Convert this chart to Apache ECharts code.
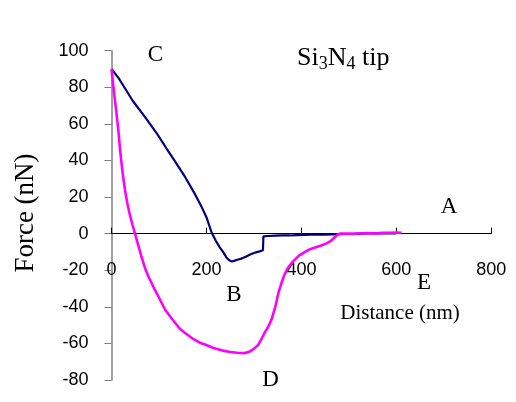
<!DOCTYPE html>
<html>
<head>
<meta charset="utf-8">
<script src="https://cdn.jsdelivr.net/npm/echarts@6/dist/echarts.min.js"></script>
<style>
  html, body { margin: 0; padding: 0; background: #fff; }
  #chart { width: 516px; height: 402px; }
</style>
</head>
<body>
<div id="chart"></div>
<script>
// Axis ranges and tick steps
const xTicks = [0, 200, 400, 600, 800];
const yTicks = [-80, -60, -40, -20, 0, 20, 40, 60, 80, 100];

// Approach curve (navy): [distance nm, force nN]
const approachCurve = [
  [0, 90], [4, 89.5], [15, 85], [28, 79.6], [45, 72.5], [70, 64], [95, 55],
  [116, 46.5], [130, 41], [155, 31], [175, 22], [190, 14.5], [200, 9],
  [211, 0.5], [220, -4], [228, -7.5], [235, -10], [242, -13], [248, -14.6],
  [253, -15.2], [258, -14.9], [265, -14.3], [272, -13.8], [278, -13.2],
  [285, -12.3], [292, -11.4], [300, -10.6], [306, -10.1], [312, -9.7],
  [319, -9.1], [320, -1.5], [330, -1.3], [345, -1.1], [360, -0.9],
  [375, -1.0], [390, -0.8], [405, -0.7], [420, -0.6], [435, -0.6],
  [450, -0.5], [465, -0.4], [480, -0.3], [495, -0.2], [520, 0],
  [545, 0.1], [570, 0.1], [600, 0.2]
];

// Retraction curve (magenta): [distance nm, force nN]
const retractCurve = [
  [0, 90], [5, 78], [10, 67], [15, 55], [18, 46], [20, 41], [24, 32],
  [28.4, 24], [33, 17], [38, 11], [44, 5], [49.5, 0], [56, -6],
  [63, -12.5], [70.6, -18.8], [77.5, -23.3], [90, -30], [102, -36],
  [113, -41.6], [128, -46.8], [144, -52], [155, -54.3], [170, -57.2],
  [186, -59.6], [197, -60.6], [215, -62.5], [232, -63.8], [250, -64.7],
  [265, -65.1], [281, -65.3], [290, -64.6], [300, -63], [309, -60.8],
  [316, -57.5], [323, -54], [330, -51], [337, -47], [345, -40],
  [352, -32], [358, -27], [364, -22.5], [372, -18.5], [383, -15],
  [395, -12], [404, -10.5], [418, -8.5], [429, -7.6], [440, -6.6],
  [453, -5.3], [462, -4], [470, -2], [476, -0.6], [481, 0],
  [495, 0.1], [510, -0.1], [525, 0.2], [540, 0.3], [555, 0.1],
  [570, 0.4], [585, 0.5], [600, 0.6], [611, 0.4]
];

// Text annotations placed on the chart
const pointLabels = [
  { text: 'C', x: 155.5, y: 54.5 },
  { text: 'A', x: 449, y: 207 },
  { text: 'B', x: 234, y: 294.5 },
  { text: 'E', x: 424, y: 283 },
  { text: 'D', x: 270.5, y: 380 }
];

const serif = '"Liberation Serif", "Times New Roman", serif';
const sans = '"Liberation Sans", Arial, sans-serif';

// Plot box
const W = 516, H = 402;
const grid = { left: 111.5, right: 24.7, top: 50.7, bottom: 22 };
const yMin = yTicks[0], yMax = yTicks[yTicks.length - 1];
// Move the horizontal axis up from the bottom edge to the y = 0 line
const plotH = H - grid.top - grid.bottom;
const zeroOffset = -plotH * (0 - yMin) / (yMax - yMin);

const chart = echarts.init(document.getElementById('chart'));

const graphics = pointLabels.map(p => ({
  type: 'text', x: p.x, y: p.y,
  style: { text: p.text, font: '23px ' + serif, fill: '#000', align: 'center', verticalAlign: 'middle' }
}));

graphics.push({
  type: 'text', x: 297, y: 58,
  style: {
    text: '{m|Si}{s|3}{m|N}{s|4}{m| tip}',
    fill: '#000', align: 'left', verticalAlign: 'middle',
    rich: {
      m: { fontFamily: serif, fontSize: 26, fill: '#000' },
      s: { fontFamily: serif, fontSize: 18, fill: '#000', padding: [13, 0, 0, 0] }
    }
  }
});

graphics.push({
  type: 'text', x: 400, y: 313,
  style: { text: 'Distance (nm)', font: '21px ' + serif, fill: '#000', align: 'center', verticalAlign: 'middle' }
});

graphics.push({
  type: 'text', x: 26, y: 213, rotation: Math.PI / 2,
  style: { text: 'Force (nN)', font: '27px ' + serif, fill: '#000', align: 'center', verticalAlign: 'middle' }
});

chart.setOption({
  animation: false,
  backgroundColor: '#fff',
  grid: Object.assign({ containLabel: false, outerBoundsMode: 'none' }, grid),
  xAxis: {
    type: 'value', position: 'bottom', offset: zeroOffset,
    min: xTicks[0], max: xTicks[xTicks.length - 1], interval: 200,
    axisLine: { onZero: false, lineStyle: { color: '#000', width: 1 } },
    axisTick: { show: true, inside: true, length: 6, lineStyle: { color: '#000' } },
    axisLabel: { margin: 27, fontSize: 18, fontFamily: sans, color: '#000' },
    splitLine: { show: false }
  },
  yAxis: {
    type: 'value',
    min: yMin, max: yMax, interval: 20,
    axisLine: { show: true, onZero: false, lineStyle: { color: '#808080', width: 1.5 } },
    axisTick: { show: true, inside: false, length: 7, lineStyle: { color: '#808080' } },
    axisLabel: { margin: 23, fontSize: 18, fontFamily: sans, color: '#000' },
    splitLine: { show: false }
  },
  series: [
    {
      type: 'line', data: approachCurve, showSymbol: false, symbol: 'none',
      lineStyle: { color: '#000080', width: 2.2 }, z: 2
    },
    {
      type: 'line', data: retractCurve, showSymbol: false, symbol: 'none',
      lineStyle: { color: '#ff00ff', width: 2.6 }, z: 3
    }
  ],
  graphic: graphics
});
</script>
</body>
</html>
